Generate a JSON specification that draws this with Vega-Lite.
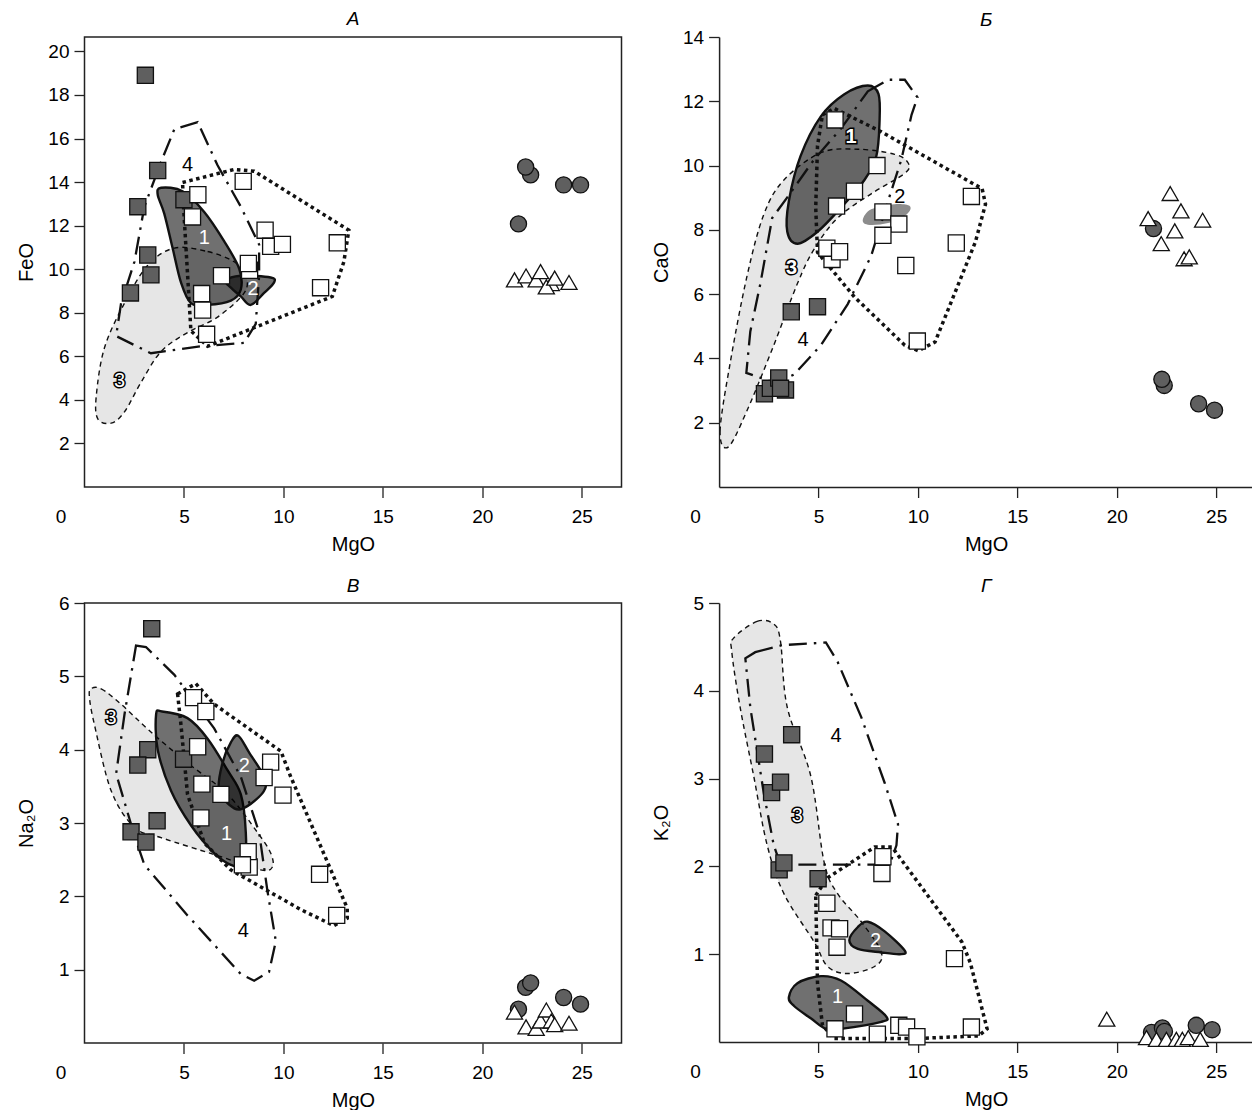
{
"$schema": "https://vega.github.io/schema/vega-lite/v6.json",
"background": "white",
"padding": {"left": 14.5, "top": 8, "right": 0, "bottom": 0},
"config": {
  "font": "Liberation Sans",
  "view": {"stroke": "#222", "strokeWidth": 1.5},
  "axis": {"grid": false, "domain": false, "labelFontSize": 19, "titleFontSize": 20, "titleFontWeight": "normal", "labelColor": "#000", "titleColor": "#000", "tickColor": "#222", "tickSize": 10.5, "tickWidth": 1.3, "labelFlush": false, "labelOverlap": false, "labelFont": "Liberation Sans", "titleFont": "Liberation Sans"},
  "title": {"fontSize": 19, "fontStyle": "italic", "fontWeight": "normal", "offset": 8.5, "baseline": "alphabetic", "anchor": "middle", "font": "Liberation Sans", "color": "#000"}
},
"datasets": {
  "pA": [
    {"t":"gs","x":3.06,"y":18.9},{"t":"gs","x":3.68,"y":14.53},{"t":"gs","x":2.68,"y":12.87},{"t":"gs","x":5.0,"y":13.19},{"t":"gs","x":3.18,"y":10.65},{"t":"gs","x":3.34,"y":9.74},{"t":"gs","x":2.31,"y":8.91},
    {"t":"ws","x":5.7,"y":13.42},{"t":"ws","x":5.43,"y":12.4},{"t":"ws","x":7.98,"y":14.03},{"t":"ws","x":9.08,"y":11.79},{"t":"ws","x":9.36,"y":11.05},{"t":"ws","x":9.95,"y":11.14},{"t":"ws","x":12.71,"y":11.21},{"t":"ws","x":11.87,"y":9.15},{"t":"ws","x":8.3,"y":9.95},{"t":"ws","x":8.24,"y":10.26},{"t":"ws","x":6.89,"y":9.7},{"t":"ws","x":5.89,"y":8.88},{"t":"ws","x":5.94,"y":8.12},{"t":"ws","x":6.14,"y":7.01},
    {"t":"gc","x":21.82,"y":12.08},{"t":"gc","x":22.43,"y":14.33},{"t":"gc","x":22.18,"y":14.69},{"t":"gc","x":24.09,"y":13.87},{"t":"gc","x":24.94,"y":13.87},
    {"t":"wt","x":21.62,"y":9.51},{"t":"wt","x":22.2,"y":9.69},{"t":"wt","x":22.71,"y":9.51},{"t":"wt","x":22.93,"y":9.89},{"t":"wt","x":23.47,"y":9.34},{"t":"wt","x":23.22,"y":9.19},{"t":"wt","x":23.64,"y":9.59},{"t":"wt","x":24.36,"y":9.39}
  ],
  "pB": [
    {"t":"gs","x":3.63,"y":5.45},{"t":"gs","x":4.95,"y":5.61},{"t":"gs","x":2.28,"y":2.9},{"t":"gs","x":2.58,"y":3.07},{"t":"gs","x":3.0,"y":3.39},{"t":"gs","x":3.34,"y":3.02},{"t":"gs","x":3.09,"y":3.07},
    {"t":"ws","x":5.83,"y":11.42},{"t":"ws","x":7.94,"y":10.0},{"t":"ws","x":6.81,"y":9.2},{"t":"ws","x":5.91,"y":8.74},{"t":"ws","x":8.24,"y":8.56},{"t":"ws","x":9.04,"y":8.18},{"t":"ws","x":8.24,"y":7.83},{"t":"ws","x":12.69,"y":9.04},{"t":"ws","x":11.93,"y":7.59},{"t":"ws","x":9.39,"y":6.89},{"t":"ws","x":5.68,"y":7.08},{"t":"ws","x":5.42,"y":7.43},{"t":"ws","x":6.06,"y":7.32},{"t":"ws","x":9.97,"y":4.54},
    {"t":"gc","x":21.85,"y":8.04},{"t":"gc","x":22.39,"y":3.16},{"t":"gc","x":22.27,"y":3.35},{"t":"gc","x":24.12,"y":2.59},{"t":"gc","x":24.92,"y":2.39},
    {"t":"wt","x":22.69,"y":9.13},{"t":"wt","x":23.23,"y":8.59},{"t":"wt","x":24.32,"y":8.3},{"t":"wt","x":21.58,"y":8.35},{"t":"wt","x":22.92,"y":7.97},{"t":"wt","x":22.24,"y":7.57},{"t":"wt","x":23.39,"y":7.1},{"t":"wt","x":23.65,"y":7.16}
  ],
  "pC": [
    {"t":"gs","x":3.38,"y":5.65},{"t":"gs","x":3.18,"y":4.0},{"t":"gs","x":2.68,"y":3.79},{"t":"gs","x":4.98,"y":3.87},{"t":"gs","x":3.65,"y":3.03},{"t":"gs","x":2.34,"y":2.88},{"t":"gs","x":3.09,"y":2.74},
    {"t":"ws","x":5.48,"y":4.71},{"t":"ws","x":6.1,"y":4.52},{"t":"ws","x":5.69,"y":4.04},{"t":"ws","x":5.9,"y":3.53},{"t":"ws","x":6.86,"y":3.39},{"t":"ws","x":5.85,"y":3.07},{"t":"ws","x":9.36,"y":3.83},{"t":"ws","x":9.03,"y":3.62},{"t":"ws","x":9.98,"y":3.38},{"t":"ws","x":8.28,"y":2.4},{"t":"ws","x":8.23,"y":2.61},{"t":"ws","x":7.94,"y":2.43},{"t":"ws","x":11.82,"y":2.3},{"t":"ws","x":12.68,"y":1.74},
    {"t":"gc","x":21.82,"y":0.46},{"t":"gc","x":22.18,"y":0.76},{"t":"gc","x":22.43,"y":0.82},{"t":"gc","x":24.09,"y":0.62},{"t":"gc","x":24.94,"y":0.53},
    {"t":"wt","x":21.62,"y":0.42},{"t":"wt","x":22.2,"y":0.22},{"t":"wt","x":22.71,"y":0.2},{"t":"wt","x":22.93,"y":0.3},{"t":"wt","x":23.22,"y":0.45},{"t":"wt","x":23.47,"y":0.3},{"t":"wt","x":23.64,"y":0.25},{"t":"wt","x":24.36,"y":0.27}
  ],
  "pD": [
    {"t":"gs","x":3.65,"y":3.5},{"t":"gs","x":2.28,"y":3.28},{"t":"gs","x":2.64,"y":2.84},{"t":"gs","x":3.09,"y":2.96},{"t":"gs","x":3.02,"y":1.96},{"t":"gs","x":3.26,"y":2.04},{"t":"gs","x":4.98,"y":1.86},
    {"t":"ws","x":8.24,"y":2.11},{"t":"ws","x":8.19,"y":1.92},{"t":"ws","x":5.42,"y":1.58},{"t":"ws","x":5.63,"y":1.3},{"t":"ws","x":6.06,"y":1.29},{"t":"ws","x":5.93,"y":1.08},{"t":"ws","x":11.84,"y":0.95},{"t":"ws","x":6.81,"y":0.32},{"t":"ws","x":5.83,"y":0.15},{"t":"ws","x":7.96,"y":0.09},{"t":"ws","x":9.04,"y":0.19},{"t":"ws","x":9.43,"y":0.17},{"t":"ws","x":9.95,"y":0.06},{"t":"ws","x":12.69,"y":0.17},
    {"t":"gc","x":21.75,"y":0.11},{"t":"gc","x":22.3,"y":0.16},{"t":"gc","x":22.4,"y":0.12},{"t":"gc","x":24.0,"y":0.19},{"t":"gc","x":24.8,"y":0.14},
    {"t":"wt","x":19.5,"y":0.26},{"t":"wt","x":21.5,"y":0.05},{"t":"wt","x":22.0,"y":0.03},{"t":"wt","x":22.5,"y":0.03},{"t":"wt","x":23.0,"y":0.03},{"t":"wt","x":23.3,"y":0.03},{"t":"wt","x":23.6,"y":0.05},{"t":"wt","x":24.2,"y":0.03}
  ],
  "fA": [
    {"f":"3","i":0,"x":4.52,"y":10.97},{"f":"3","i":1,"x":6.19,"y":10.81},{"f":"3","i":2,"x":7.53,"y":10.34},{"f":"3","i":3,"x":8.11,"y":9.7},{"f":"3","i":4,"x":8.03,"y":8.91},{"f":"3","i":5,"x":6.69,"y":7.8},{"f":"3","i":6,"x":5.18,"y":7.09},{"f":"3","i":7,"x":3.85,"y":6.22},{"f":"3","i":8,"x":2.84,"y":4.8},{"f":"3","i":9,"x":2.01,"y":3.45},{"f":"3","i":10,"x":1.34,"y":2.93},{"f":"3","i":11,"x":0.67,"y":3.13},{"f":"3","i":12,"x":0.59,"y":4.16},{"f":"3","i":13,"x":1.0,"y":6.38},{"f":"3","i":14,"x":2.01,"y":8.44},{"f":"3","i":15,"x":3.18,"y":10.18},
    {"f":"1","i":0,"x":3.85,"y":13.74},{"f":"1","i":1,"x":4.93,"y":13.58},{"f":"1","i":2,"x":6.02,"y":12.63},{"f":"1","i":3,"x":7.02,"y":11.29},{"f":"1","i":4,"x":7.78,"y":10.02},{"f":"1","i":5,"x":7.86,"y":9.07},{"f":"1","i":6,"x":7.36,"y":8.56},{"f":"1","i":7,"x":6.19,"y":8.36},{"f":"1","i":8,"x":5.35,"y":8.44},{"f":"1","i":9,"x":4.85,"y":9.39},{"f":"1","i":10,"x":4.43,"y":10.97},{"f":"1","i":11,"x":4.01,"y":12.55},{"f":"1","i":12,"x":3.68,"y":13.42},
    {"f":"2","i":0,"x":7.11,"y":9.47},{"f":"2","i":1,"x":7.86,"y":9.7},{"f":"2","i":2,"x":9.36,"y":9.62},{"f":"2","i":3,"x":9.53,"y":9.39},{"f":"2","i":4,"x":9.03,"y":8.91},{"f":"2","i":5,"x":8.36,"y":8.36},{"f":"2","i":6,"x":7.86,"y":8.75},{"f":"2","i":7,"x":7.36,"y":9.15},
    {"f":"4","i":0,"x":5.69,"y":16.75},{"f":"4","i":1,"x":4.52,"y":16.43},{"f":"4","i":2,"x":3.85,"y":14.93},{"f":"4","i":3,"x":3.01,"y":12.87},{"f":"4","i":4,"x":2.51,"y":10.34},{"f":"4","i":5,"x":1.84,"y":8.44},{"f":"4","i":6,"x":1.59,"y":6.93},{"f":"4","i":7,"x":3.34,"y":6.14},{"f":"4","i":8,"x":5.85,"y":6.46},{"f":"4","i":9,"x":8.03,"y":6.62},{"f":"4","i":10,"x":8.61,"y":7.49},{"f":"4","i":11,"x":8.78,"y":9.7},{"f":"4","i":12,"x":8.78,"y":11.13},{"f":"4","i":13,"x":7.86,"y":12.87},{"f":"4","i":14,"x":6.69,"y":14.77},
    {"f":"d","i":0,"x":4.93,"y":13.98},{"f":"d","i":1,"x":7.53,"y":14.58},{"f":"d","i":2,"x":8.53,"y":14.5},{"f":"d","i":3,"x":13.29,"y":11.79},{"f":"d","i":4,"x":13.04,"y":10.34},{"f":"d","i":5,"x":12.46,"y":8.75},{"f":"d","i":6,"x":6.19,"y":6.46},{"f":"d","i":7,"x":5.35,"y":7.17},{"f":"d","i":8,"x":4.98,"y":12.87}
  ],
  "fB": [
    {"f":"3","i":0,"x":0.47,"y":1.25},{"f":"3","i":1,"x":0.05,"y":1.73},{"f":"3","i":2,"x":0.56,"y":3.87},{"f":"3","i":3,"x":1.4,"y":6.55},{"f":"3","i":4,"x":2.25,"y":8.48},{"f":"3","i":5,"x":3.26,"y":9.55},{"f":"3","i":6,"x":5.12,"y":10.4},{"f":"3","i":7,"x":6.98,"y":10.51},{"f":"3","i":8,"x":8.83,"y":10.35},{"f":"3","i":9,"x":9.51,"y":10.08},{"f":"3","i":10,"x":9.34,"y":9.76},{"f":"3","i":11,"x":7.65,"y":9.12},{"f":"3","i":12,"x":5.96,"y":8.37},{"f":"3","i":13,"x":4.78,"y":7.4},{"f":"3","i":14,"x":3.94,"y":6.33},{"f":"3","i":15,"x":2.75,"y":4.41},{"f":"3","i":16,"x":1.4,"y":2.37},
    {"f":"1","i":0,"x":3.94,"y":7.57},{"f":"1","i":1,"x":3.43,"y":7.94},{"f":"1","i":2,"x":3.51,"y":8.9},{"f":"1","i":3,"x":4.1,"y":10.3},{"f":"1","i":4,"x":5.12,"y":11.53},{"f":"1","i":5,"x":6.3,"y":12.22},{"f":"1","i":6,"x":7.48,"y":12.49},{"f":"1","i":7,"x":8.02,"y":12.22},{"f":"1","i":8,"x":8.07,"y":11.37},{"f":"1","i":9,"x":7.91,"y":10.3},{"f":"1","i":10,"x":7.31,"y":9.55},{"f":"1","i":11,"x":6.13,"y":8.69},{"f":"1","i":12,"x":4.95,"y":7.94},
    {"f":"2b","i":0,"x":7.23,"y":8.32},{"f":"2b","i":1,"x":7.65,"y":8.64},{"f":"2b","i":2,"x":8.83,"y":8.8},{"f":"2b","i":3,"x":9.59,"y":8.74},{"f":"2b","i":4,"x":9.43,"y":8.48},{"f":"2b","i":5,"x":8.5,"y":8.21},{"f":"2b","i":6,"x":7.48,"y":8.16},
    {"f":"4","i":0,"x":7.48,"y":12.31},{"f":"4","i":1,"x":8.5,"y":12.67},{"f":"4","i":2,"x":9.34,"y":12.67},{"f":"4","i":3,"x":9.98,"y":12.12},{"f":"4","i":4,"x":9.68,"y":11.58},{"f":"4","i":5,"x":9.17,"y":10.19},{"f":"4","i":6,"x":8.5,"y":8.9},{"f":"4","i":7,"x":7.65,"y":7.19},{"f":"4","i":8,"x":6.47,"y":5.69},{"f":"4","i":9,"x":5.12,"y":4.41},{"f":"4","i":10,"x":3.77,"y":3.5},{"f":"4","i":11,"x":2.84,"y":3.23},{"f":"4","i":12,"x":1.37,"y":3.55},{"f":"4","i":13,"x":1.57,"y":4.84},{"f":"4","i":14,"x":2.08,"y":6.34},{"f":"4","i":15,"x":2.67,"y":8.37},{"f":"4","i":16,"x":3.43,"y":9.01},{"f":"4","i":17,"x":4.78,"y":10.19},{"f":"4","i":18,"x":6.13,"y":11.15},
    {"f":"d","i":0,"x":5.2,"y":11.58},{"f":"d","i":1,"x":5.79,"y":11.78},{"f":"d","i":2,"x":8.16,"y":11.05},{"f":"d","i":3,"x":13.23,"y":9.28},{"f":"d","i":4,"x":13.4,"y":8.8},{"f":"d","i":5,"x":12.89,"y":7.62},{"f":"d","i":6,"x":10.86,"y":4.51},{"f":"d","i":7,"x":10.02,"y":4.24},{"f":"d","i":8,"x":9.34,"y":4.41},{"f":"d","i":9,"x":6.81,"y":5.91},{"f":"d","i":10,"x":4.95,"y":7.3},{"f":"d","i":11,"x":4.86,"y":8.69},{"f":"d","i":12,"x":4.95,"y":10.62}
  ],
  "fC": [
    {"f":"3","i":0,"x":0.33,"y":4.83},{"f":"3","i":1,"x":0.84,"y":4.83},{"f":"3","i":2,"x":1.84,"y":4.62},{"f":"3","i":3,"x":3.34,"y":4.24},{"f":"3","i":4,"x":5.18,"y":3.82},{"f":"3","i":5,"x":7.19,"y":3.39},{"f":"3","i":6,"x":8.7,"y":2.87},{"f":"3","i":7,"x":9.36,"y":2.59},{"f":"3","i":8,"x":9.45,"y":2.4},{"f":"3","i":9,"x":8.86,"y":2.36},{"f":"3","i":10,"x":6.86,"y":2.54},{"f":"3","i":11,"x":3.85,"y":2.8},{"f":"3","i":12,"x":2.51,"y":2.94},{"f":"3","i":13,"x":1.34,"y":3.44},{"f":"3","i":14,"x":0.5,"y":4.34},{"f":"3","i":15,"x":0.25,"y":4.71},
    {"f":"1","i":0,"x":3.6,"y":4.48},{"f":"1","i":1,"x":3.9,"y":4.52},{"f":"1","i":2,"x":5.18,"y":4.43},{"f":"1","i":3,"x":6.19,"y":4.15},{"f":"1","i":4,"x":7.19,"y":3.72},{"f":"1","i":5,"x":7.86,"y":3.39},{"f":"1","i":6,"x":8.11,"y":2.87},{"f":"1","i":7,"x":8.03,"y":2.43},{"f":"1","i":8,"x":7.36,"y":2.43},{"f":"1","i":9,"x":6.52,"y":2.59},{"f":"1","i":10,"x":5.35,"y":2.97},{"f":"1","i":11,"x":4.35,"y":3.44},{"f":"1","i":12,"x":3.68,"y":4.0},
    {"f":"2","i":0,"x":6.77,"y":3.44},{"f":"2","i":1,"x":6.94,"y":3.82},{"f":"2","i":2,"x":7.36,"y":4.1},{"f":"2","i":3,"x":7.73,"y":4.19},{"f":"2","i":4,"x":8.28,"y":3.96},{"f":"2","i":5,"x":9.03,"y":3.63},{"f":"2","i":6,"x":9.03,"y":3.44},{"f":"2","i":7,"x":8.19,"y":3.23},{"f":"2","i":8,"x":7.53,"y":3.2},
    {"f":"4","i":0,"x":2.59,"y":5.42},{"f":"4","i":1,"x":3.09,"y":5.4},{"f":"4","i":2,"x":4.52,"y":5.02},{"f":"4","i":3,"x":6.52,"y":4.29},{"f":"4","i":4,"x":7.86,"y":3.63},{"f":"4","i":5,"x":8.78,"y":2.87},{"f":"4","i":6,"x":9.2,"y":2.07},{"f":"4","i":7,"x":9.62,"y":1.39},{"f":"4","i":8,"x":9.28,"y":0.97},{"f":"4","i":9,"x":8.53,"y":0.85},{"f":"4","i":10,"x":7.86,"y":0.94},{"f":"4","i":11,"x":5.18,"y":1.74},{"f":"4","i":12,"x":3.01,"y":2.43},{"f":"4","i":13,"x":2.51,"y":2.83},{"f":"4","i":14,"x":1.59,"y":3.67},{"f":"4","i":15,"x":2.01,"y":4.48},
    {"f":"d","i":0,"x":4.68,"y":4.76},{"f":"d","i":1,"x":5.6,"y":4.9},{"f":"d","i":2,"x":6.52,"y":4.62},{"f":"d","i":3,"x":9.87,"y":3.98},{"f":"d","i":4,"x":10.37,"y":3.63},{"f":"d","i":5,"x":13.21,"y":1.84},{"f":"d","i":6,"x":13.21,"y":1.7},{"f":"d","i":7,"x":12.54,"y":1.6},{"f":"d","i":8,"x":10.87,"y":1.82},{"f":"d","i":9,"x":7.36,"y":2.36},{"f":"d","i":10,"x":6.02,"y":2.73},{"f":"d","i":11,"x":5.18,"y":3.39},{"f":"d","i":12,"x":4.85,"y":4.34}
  ],
  "fD": [
    {"f":"3","i":0,"x":0.73,"y":4.6},{"f":"3","i":1,"x":1.91,"y":4.79},{"f":"3","i":2,"x":2.75,"y":4.76},{"f":"3","i":3,"x":3.09,"y":4.56},{"f":"3","i":4,"x":3.43,"y":3.81},{"f":"3","i":5,"x":4.61,"y":3.03},{"f":"3","i":6,"x":5.29,"y":2.04},{"f":"3","i":7,"x":5.96,"y":1.69},{"f":"3","i":8,"x":7.15,"y":1.37},{"f":"3","i":9,"x":8.16,"y":1.02},{"f":"3","i":10,"x":7.82,"y":0.86},{"f":"3","i":11,"x":6.47,"y":0.78},{"f":"3","i":12,"x":5.46,"y":0.86},{"f":"3","i":13,"x":4.78,"y":1.14},{"f":"3","i":14,"x":3.26,"y":1.69},{"f":"3","i":15,"x":2.42,"y":2.24},{"f":"3","i":16,"x":1.74,"y":3.03},{"f":"3","i":17,"x":1.06,"y":3.81},{"f":"3","i":18,"x":0.64,"y":4.44},
    {"f":"1","i":0,"x":3.51,"y":0.51},{"f":"1","i":1,"x":3.94,"y":0.67},{"f":"1","i":2,"x":5.12,"y":0.75},{"f":"1","i":3,"x":6.13,"y":0.7},{"f":"1","i":4,"x":7.48,"y":0.47},{"f":"1","i":5,"x":8.41,"y":0.29},{"f":"1","i":6,"x":8.16,"y":0.23},{"f":"1","i":7,"x":6.13,"y":0.15},{"f":"1","i":8,"x":5.37,"y":0.15},{"f":"1","i":9,"x":4.61,"y":0.27},{"f":"1","i":10,"x":3.77,"y":0.41},
    {"f":"2","i":0,"x":6.55,"y":1.16},{"f":"2","i":1,"x":6.98,"y":1.31},{"f":"2","i":2,"x":7.48,"y":1.37},{"f":"2","i":3,"x":8.33,"y":1.26},{"f":"2","i":4,"x":9.34,"y":1.04},{"f":"2","i":5,"x":9.09,"y":1.0},{"f":"2","i":6,"x":8.16,"y":1.02},{"f":"2","i":7,"x":6.98,"y":1.06},
    {"f":"4","i":0,"x":1.82,"y":4.44},{"f":"4","i":1,"x":3.18,"y":4.52},{"f":"4","i":2,"x":5.37,"y":4.55},{"f":"4","i":3,"x":5.96,"y":4.33},{"f":"4","i":4,"x":7.15,"y":3.7},{"f":"4","i":5,"x":8.33,"y":2.95},{"f":"4","i":6,"x":9.0,"y":2.48},{"f":"4","i":7,"x":8.92,"y":2.24},{"f":"4","i":8,"x":8.67,"y":2.08},{"f":"4","i":9,"x":7.82,"y":2.02},{"f":"4","i":10,"x":3.09,"y":2.02},{"f":"4","i":11,"x":2.75,"y":2.24},{"f":"4","i":12,"x":2.25,"y":2.83},{"f":"4","i":13,"x":1.57,"y":3.81},{"f":"4","i":14,"x":1.32,"y":4.37},
    {"f":"d","i":0,"x":4.86,"y":1.67},{"f":"d","i":1,"x":5.46,"y":1.87},{"f":"d","i":2,"x":7.82,"y":2.22},{"f":"d","i":3,"x":8.7,"y":2.22},{"f":"d","i":4,"x":12.21,"y":1.14},{"f":"d","i":5,"x":12.64,"y":0.9},{"f":"d","i":6,"x":13.48,"y":0.15},{"f":"d","i":7,"x":13.06,"y":0.07},{"f":"d","i":8,"x":10.02,"y":0.04},{"f":"d","i":9,"x":5.79,"y":0.04},{"f":"d","i":10,"x":5.2,"y":0.19},{"f":"d","i":11,"x":4.95,"y":0.67}
  ],
  "lA": [{"f":"1","k":"w","x":6.02,"y":11.45},{"f":"2","k":"w","x":8.48,"y":9.1},{"f":"3","k":"o","x":1.76,"y":4.88},{"f":"4","k":"b","x":5.18,"y":14.77}],
  "lB": [{"f":"1","k":"o","x":6.64,"y":10.89},{"f":"2","k":"b","x":9.09,"y":9.01},{"f":"3","k":"o","x":3.65,"y":6.82},{"f":"4","k":"b","x":4.22,"y":4.57}],
  "lC": [{"f":"1","k":"w","x":7.14,"y":2.85},{"f":"2","k":"w","x":8.03,"y":3.78},{"f":"3","k":"o","x":1.34,"y":4.43},{"f":"4","k":"b","x":7.98,"y":1.53}],
  "lD": [{"f":"1","k":"w","x":5.96,"y":0.51},{"f":"2","k":"w","x":7.87,"y":1.15},{"f":"3","k":"o","x":3.94,"y":2.57},{"f":"4","k":"b","x":5.88,"y":3.48}]
},
"columns": 2,
"spacing": {"row": 116, "column": 97.6},
"bounds": "flush",
"concat": [
  {
    "width": 537, "height": 450,
    "title": {"text": "А"},
    "encoding": {
      "x": {"field": "x", "type": "quantitative", "scale": {"domain": [0, 27], "nice": false, "zero": false}, "axis": {"values": [0,5,10,15,20,25], "title": "MgO", "labelPadding": 10, "labelOffset": {"condition": {"test": "datum.value === 0", "value": -24}, "value": 0}, "tickOpacity": {"condition": {"test": "datum.value === 0", "value": 0}, "value": 1}, "titleY": 63, "titleBaseline": "alphabetic"}},
      "y": {"field": "y", "type": "quantitative", "scale": {"domain": [0, 20.66], "nice": false, "zero": false}, "axis": {"values": [2,4,6,8,10,12,14,16,18,20], "title": "FeO", "labelPadding": 5, "titleX": -52.5, "titleBaseline": "alphabetic"}}
    },
    "layer": [
      {"data": {"name": "fA"}, "transform": [{"filter": "datum.f == '3'"}], "mark": {"type": "line", "interpolate": "cardinal-closed", "fill": "#e6e6e6", "stroke": "#111", "strokeWidth": 1.4, "strokeDash": [5, 4]}, "encoding": {"order": {"field": "i"}}},
      {"data": {"name": "fA"}, "transform": [{"filter": "datum.f == '1' || datum.f == '2'"}], "mark": {"type": "line", "interpolate": "cardinal-closed", "fill": "#000", "fillOpacity": 0.56, "stroke": "#111", "strokeWidth": 2.4}, "encoding": {"detail": {"field": "f"}, "order": {"field": "i"}}},
      {"data": {"name": "fA"}, "transform": [{"filter": "datum.f == '4'"}], "mark": {"type": "line", "interpolate": "linear-closed", "stroke": "#111", "strokeWidth": 2.3, "strokeDash": [18, 7, 2.5, 7]}, "encoding": {"order": {"field": "i"}}},
      {"data": {"name": "fA"}, "transform": [{"filter": "datum.f == 'd'"}], "mark": {"type": "line", "interpolate": "linear-closed", "stroke": "#111", "strokeWidth": 3.5, "strokeDash": [3.5, 3.5]}, "encoding": {"order": {"field": "i"}}},
      {"data": {"name": "pA"}, "mark": {"type": "point", "filled": true, "opacity": 1, "stroke": "#111", "strokeWidth": 1.3}, "encoding": {
        "shape": {"field": "t", "scale": {"domain": ["gs","ws","gc","wt"], "range": ["square","square","circle","triangle-up"]}, "legend": null},
        "fill": {"field": "t", "scale": {"domain": ["gs","ws","gc","wt"], "range": ["#5f5f5f","#ffffff","#5f5f5f","#ffffff"]}, "legend": null},
        "size": {"field": "t", "scale": {"domain": ["gs","ws","gc","wt"], "range": [260,260,300,240]}, "legend": null}}},
      {"data": {"name": "lA"}, "transform": [{"filter": "datum.k == 'o'"}], "mark": {"type": "text", "fill": "#000", "stroke": "#000", "strokeWidth": 3, "fontSize": 20, "align": "center", "baseline": "middle"}, "encoding": {"text": {"field": "f"}}},
      {"data": {"name": "lA"}, "transform": [{"filter": "datum.k != 'b'"}], "mark": {"type": "text", "fill": "#fff", "fontSize": 20, "align": "center", "baseline": "middle"}, "encoding": {"text": {"field": "f"}}},
      {"data": {"name": "lA"}, "transform": [{"filter": "datum.k == 'b'"}], "mark": {"type": "text", "fill": "#000", "fontSize": 20, "align": "center", "baseline": "middle"}, "encoding": {"text": {"field": "f"}}}
    ]
  },
  {
    "width": 534, "height": 450,
    "title": {"text": "Б", "offset": -2},
    "view": {"stroke": null},
    "encoding": {
      "x": {"field": "x", "type": "quantitative", "scale": {"domain": [0, 26.86], "nice": false, "zero": false}, "axis": {"values": [0,5,10,15,20,25], "title": "MgO", "domain": true, "domainColor": "#222", "domainWidth": 1.5, "labelPadding": 10, "labelOffset": {"condition": {"test": "datum.value === 0", "value": -24}, "value": 0}, "tickOpacity": {"condition": {"test": "datum.value === 0", "value": 0}, "value": 1}, "titleY": 63, "titleBaseline": "alphabetic"}},
      "y": {"field": "y", "type": "quantitative", "scale": {"domain": [0, 14], "nice": false, "zero": false}, "axis": {"values": [2,4,6,8,10,12,14], "title": "CaO", "domain": true, "domainColor": "#222", "domainWidth": 1.5, "labelPadding": 5, "titleX": -51.6, "titleBaseline": "alphabetic"}}
    },
    "layer": [
      {"data": {"values": [{}]}, "mark": {"type": "rule", "stroke": "#222", "strokeWidth": 1.5}, "encoding": {"x": {"datum": 0}, "x2": {"datum": 26.86}, "y": {"datum": 14}}},
      {"data": {"name": "fB"}, "transform": [{"filter": "datum.f == '3'"}], "mark": {"type": "line", "interpolate": "cardinal-closed", "fill": "#e6e6e6", "stroke": "#111", "strokeWidth": 1.4, "strokeDash": [5, 4]}, "encoding": {"order": {"field": "i"}}},
      {"data": {"name": "fB"}, "transform": [{"filter": "datum.f == '1'"}], "mark": {"type": "line", "interpolate": "cardinal-closed", "fill": "#000", "fillOpacity": 0.56, "stroke": "#111", "strokeWidth": 2.4}, "encoding": {"detail": {"field": "f"}, "order": {"field": "i"}}},
      {"data": {"name": "fB"}, "transform": [{"filter": "datum.f == '2b'"}], "mark": {"type": "line", "interpolate": "cardinal-closed", "fill": "#000", "fillOpacity": 0.45, "strokeOpacity": 0}, "encoding": {"order": {"field": "i"}}},
      {"data": {"name": "fB"}, "transform": [{"filter": "datum.f == '4'"}], "mark": {"type": "line", "interpolate": "linear-closed", "stroke": "#111", "strokeWidth": 2.3, "strokeDash": [18, 7, 2.5, 7]}, "encoding": {"order": {"field": "i"}}},
      {"data": {"name": "fB"}, "transform": [{"filter": "datum.f == 'd'"}], "mark": {"type": "line", "interpolate": "linear-closed", "stroke": "#111", "strokeWidth": 3.5, "strokeDash": [3.5, 3.5]}, "encoding": {"order": {"field": "i"}}},
      {"data": {"name": "pB"}, "mark": {"type": "point", "filled": true, "opacity": 1, "stroke": "#111", "strokeWidth": 1.3}, "encoding": {
        "shape": {"field": "t", "scale": {"domain": ["gs","ws","gc","wt"], "range": ["square","square","circle","triangle-up"]}, "legend": null},
        "fill": {"field": "t", "scale": {"domain": ["gs","ws","gc","wt"], "range": ["#5f5f5f","#ffffff","#5f5f5f","#ffffff"]}, "legend": null},
        "size": {"field": "t", "scale": {"domain": ["gs","ws","gc","wt"], "range": [260,260,300,240]}, "legend": null}}},
      {"data": {"name": "lB"}, "transform": [{"filter": "datum.k == 'o'"}], "mark": {"type": "text", "fill": "#000", "stroke": "#000", "strokeWidth": 3, "fontSize": 20, "fontWeight": "bold", "align": "center", "baseline": "middle"}, "encoding": {"text": {"field": "f"}}},
      {"data": {"name": "lB"}, "transform": [{"filter": "datum.k != 'b'"}], "mark": {"type": "text", "fill": "#fff", "fontSize": 20, "fontWeight": "bold", "align": "center", "baseline": "middle"}, "encoding": {"text": {"field": "f"}}},
      {"data": {"name": "lB"}, "transform": [{"filter": "datum.k == 'b'"}], "mark": {"type": "text", "fill": "#000", "fontSize": 20, "align": "center", "baseline": "middle"}, "encoding": {"text": {"field": "f"}}}
    ]
  },
  {
    "width": 537, "height": 440,
    "title": {"text": "В", "offset": -2},
    "encoding": {
      "x": {"field": "x", "type": "quantitative", "scale": {"domain": [0, 27], "nice": false, "zero": false}, "axis": {"values": [0,5,10,15,20,25], "title": "MgO", "labelPadding": 10, "labelOffset": {"condition": {"test": "datum.value === 0", "value": -24}, "value": 0}, "tickOpacity": {"condition": {"test": "datum.value === 0", "value": 0}, "value": 1}, "titleY": 63, "titleBaseline": "alphabetic"}},
      "y": {"field": "y", "type": "quantitative", "scale": {"domain": [0, 6], "nice": false, "zero": false}, "axis": {"values": [1,2,3,4,5,6], "title": "Na₂O", "labelPadding": 5, "titleX": -52.5, "titleBaseline": "alphabetic"}}
    },
    "layer": [
      {"data": {"name": "fC"}, "transform": [{"filter": "datum.f == '3'"}], "mark": {"type": "line", "interpolate": "cardinal-closed", "fill": "#e6e6e6", "stroke": "#111", "strokeWidth": 1.4, "strokeDash": [5, 4]}, "encoding": {"order": {"field": "i"}}},
      {"data": {"name": "fC"}, "transform": [{"filter": "datum.f == '1' || datum.f == '2'"}], "mark": {"type": "line", "interpolate": "cardinal-closed", "fill": "#000", "fillOpacity": 0.56, "stroke": "#111", "strokeWidth": 2.4}, "encoding": {"detail": {"field": "f"}, "order": {"field": "i"}}},
      {"data": {"name": "fC"}, "transform": [{"filter": "datum.f == '4'"}], "mark": {"type": "line", "interpolate": "linear-closed", "stroke": "#111", "strokeWidth": 2.3, "strokeDash": [18, 7, 2.5, 7]}, "encoding": {"order": {"field": "i"}}},
      {"data": {"name": "fC"}, "transform": [{"filter": "datum.f == 'd'"}], "mark": {"type": "line", "interpolate": "linear-closed", "stroke": "#111", "strokeWidth": 3.5, "strokeDash": [3.5, 3.5]}, "encoding": {"order": {"field": "i"}}},
      {"data": {"name": "pC"}, "mark": {"type": "point", "filled": true, "opacity": 1, "stroke": "#111", "strokeWidth": 1.3}, "encoding": {
        "shape": {"field": "t", "scale": {"domain": ["gs","ws","gc","wt"], "range": ["square","square","circle","triangle-up"]}, "legend": null},
        "fill": {"field": "t", "scale": {"domain": ["gs","ws","gc","wt"], "range": ["#5f5f5f","#ffffff","#5f5f5f","#ffffff"]}, "legend": null},
        "size": {"field": "t", "scale": {"domain": ["gs","ws","gc","wt"], "range": [260,260,300,240]}, "legend": null}}},
      {"data": {"name": "lC"}, "transform": [{"filter": "datum.k == 'o'"}], "mark": {"type": "text", "fill": "#000", "stroke": "#000", "strokeWidth": 3, "fontSize": 20, "align": "center", "baseline": "middle"}, "encoding": {"text": {"field": "f"}}},
      {"data": {"name": "lC"}, "transform": [{"filter": "datum.k != 'b'"}], "mark": {"type": "text", "fill": "#fff", "fontSize": 20, "align": "center", "baseline": "middle"}, "encoding": {"text": {"field": "f"}}},
      {"data": {"name": "lC"}, "transform": [{"filter": "datum.k == 'b'"}], "mark": {"type": "text", "fill": "#000", "fontSize": 20, "align": "center", "baseline": "middle"}, "encoding": {"text": {"field": "f"}}}
    ]
  },
  {
    "width": 534, "height": 439,
    "title": {"text": "Г", "offset": -2},
    "view": {"stroke": null},
    "encoding": {
      "x": {"field": "x", "type": "quantitative", "scale": {"domain": [0, 26.86], "nice": false, "zero": false}, "axis": {"values": [0,5,10,15,20,25], "title": "MgO", "domain": true, "domainColor": "#222", "domainWidth": 1.5, "labelPadding": 10, "labelOffset": {"condition": {"test": "datum.value === 0", "value": -24}, "value": 0}, "tickOpacity": {"condition": {"test": "datum.value === 0", "value": 0}, "value": 1}, "titleY": 63, "titleBaseline": "alphabetic"}},
      "y": {"field": "y", "type": "quantitative", "scale": {"domain": [0, 5], "nice": false, "zero": false}, "axis": {"values": [1,2,3,4,5], "title": "K₂O", "domain": true, "domainColor": "#222", "domainWidth": 1.5, "labelPadding": 5, "titleX": -51.6, "titleBaseline": "alphabetic"}}
    },
    "layer": [
      {"data": {"values": [{}]}, "mark": {"type": "rule", "stroke": "#222", "strokeWidth": 1.5}, "encoding": {"x": {"datum": 0}, "x2": {"datum": 26.86}, "y": {"datum": 5}}},
      {"data": {"name": "fD"}, "transform": [{"filter": "datum.f == '3'"}], "mark": {"type": "line", "interpolate": "cardinal-closed", "fill": "#e6e6e6", "stroke": "#111", "strokeWidth": 1.4, "strokeDash": [5, 4]}, "encoding": {"order": {"field": "i"}}},
      {"data": {"name": "fD"}, "transform": [{"filter": "datum.f == '1' || datum.f == '2'"}], "mark": {"type": "line", "interpolate": "cardinal-closed", "fill": "#000", "fillOpacity": 0.56, "stroke": "#111", "strokeWidth": 2.4}, "encoding": {"detail": {"field": "f"}, "order": {"field": "i"}}},
      {"data": {"name": "fD"}, "transform": [{"filter": "datum.f == '4'"}], "mark": {"type": "line", "interpolate": "linear-closed", "stroke": "#111", "strokeWidth": 2.3, "strokeDash": [18, 7, 2.5, 7]}, "encoding": {"order": {"field": "i"}}},
      {"data": {"name": "fD"}, "transform": [{"filter": "datum.f == 'd'"}], "mark": {"type": "line", "interpolate": "linear-closed", "stroke": "#111", "strokeWidth": 3.5, "strokeDash": [3.5, 3.5]}, "encoding": {"order": {"field": "i"}}},
      {"data": {"name": "pD"}, "mark": {"type": "point", "filled": true, "opacity": 1, "stroke": "#111", "strokeWidth": 1.3}, "encoding": {
        "shape": {"field": "t", "scale": {"domain": ["gs","ws","gc","wt"], "range": ["square","square","circle","triangle-up"]}, "legend": null},
        "fill": {"field": "t", "scale": {"domain": ["gs","ws","gc","wt"], "range": ["#5f5f5f","#ffffff","#5f5f5f","#ffffff"]}, "legend": null},
        "size": {"field": "t", "scale": {"domain": ["gs","ws","gc","wt"], "range": [260,260,300,240]}, "legend": null}}},
      {"data": {"name": "lD"}, "transform": [{"filter": "datum.k == 'o'"}], "mark": {"type": "text", "fill": "#000", "stroke": "#000", "strokeWidth": 3, "fontSize": 20, "align": "center", "baseline": "middle"}, "encoding": {"text": {"field": "f"}}},
      {"data": {"name": "lD"}, "transform": [{"filter": "datum.k != 'b'"}], "mark": {"type": "text", "fill": "#fff", "fontSize": 20, "align": "center", "baseline": "middle"}, "encoding": {"text": {"field": "f"}}},
      {"data": {"name": "lD"}, "transform": [{"filter": "datum.k == 'b'"}], "mark": {"type": "text", "fill": "#000", "fontSize": 20, "align": "center", "baseline": "middle"}, "encoding": {"text": {"field": "f"}}}
    ]
  }
]
}
